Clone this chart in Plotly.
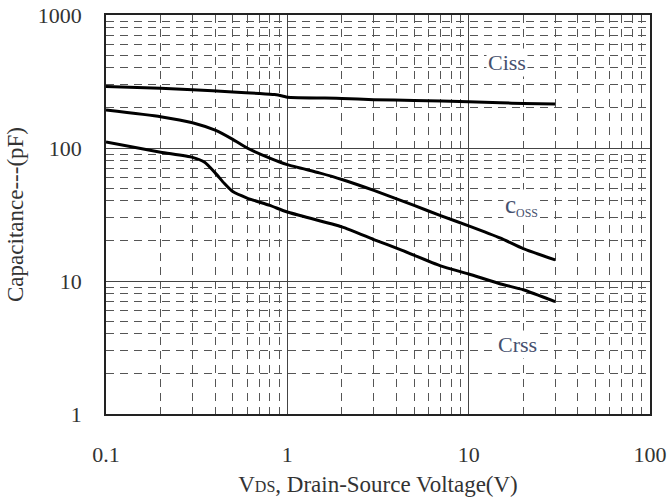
import math
import plotly.graph_objects as go

# Data
ciss_v = [0.1, 0.2, 0.3, 0.5, 0.7, 0.85, 0.95, 1.0, 2, 3, 5, 10, 15, 20, 30]
ciss_c = [290, 281, 274, 264, 257, 252, 245, 241, 236, 231, 228, 223, 219, 216, 214]

coss_v = [0.1, 0.2, 0.3, 0.4, 0.5, 0.6, 0.8, 1, 1.5, 2, 3, 5, 7, 10, 15, 20, 30]
coss_c = [193, 172, 155, 136, 116, 100, 84, 75, 65, 58, 48, 37, 31, 26, 21, 17.5, 14.4]

crss_v = [0.1, 0.2, 0.3, 0.35, 0.4, 0.45, 0.5, 0.6, 0.8, 1, 2, 3, 4.3, 7, 10, 15, 20, 30]
crss_c = [111, 93, 85, 78, 65, 54, 47, 42, 37, 33, 25.5, 20.5, 17, 13, 11.3, 9.5, 8.6, 7.0]

x_ticks = [0.1, 1, 10, 100]
x_ticktext = ["0.1", "1", "10", "100"]
y_ticks = [1, 10, 100, 1000]
y_ticktext = ["1", "10", "100", "1000"]

# label text and position (V, pF)
label_text = ["Ciss", "c<span style='font-size:17px'><sub>OSS</sub></span>", "Crss"]
label_v = [16.3, 19.5, 18.5]
label_c = [443, 37, 3.36]

FONT = "Liberation Serif, Times New Roman, serif"

fig = go.Figure()
for xs, ys in [(ciss_v, ciss_c), (coss_v, coss_c), (crss_v, crss_c)]:
    fig.add_trace(go.Scatter(x=xs, y=ys, mode="lines",
                             line=dict(color="black", width=3, shape="spline", smoothing=0.5),
                             showlegend=False, hoverinfo="skip"))

for txt, xv, yv, fs in zip(label_text, label_v, label_c, [22, 25, 22]):
    fig.add_annotation(x=math.log10(xv), y=math.log10(yv), xref="x", yref="y", text=txt,
                       showarrow=False,
                       font=dict(family=FONT, size=fs, color="#46506e"),
                       bgcolor="white", xanchor="center", yanchor="middle")

axis_common = dict(
    type="log", showline=True, linecolor="#222", linewidth=1.5, mirror=True,
    showgrid=True, gridcolor="#444", gridwidth=1, automargin=False,
    ticks="", tickfont=dict(family=FONT, size=22, color="#333"),
    zeroline=False,
    minor=dict(dtick="D1", showgrid=True, gridcolor="#555", gridwidth=1,
               griddash="8px,6px", ticks=""),
)

fig.update_xaxes(**axis_common, range=[-1, 2], tickvals=x_ticks, ticktext=x_ticktext,
                 ticklabelstandoff=20,
                 title=dict(text="V<span style='font-size:16px'>DS</span>, Drain-Source Voltage(V)",
                            font=dict(family=FONT, size=23, color="#333"), standoff=10))
fig.update_yaxes(**axis_common, range=[0, 3], tickvals=y_ticks, ticktext=y_ticktext,
                 ticklabelstandoff=18,
                 title=dict(text="Capacitance---(pF)",
                            font=dict(family=FONT, size=23, color="#333"), standoff=8))

fig.update_layout(width=670, height=500,
                  margin=dict(l=106, r=20, t=15, b=86),
                  plot_bgcolor="white", paper_bgcolor="white")

fig.write_html("out.html", config={"displayModeBar": False},
               post_script="document.body.style.margin='0';")
